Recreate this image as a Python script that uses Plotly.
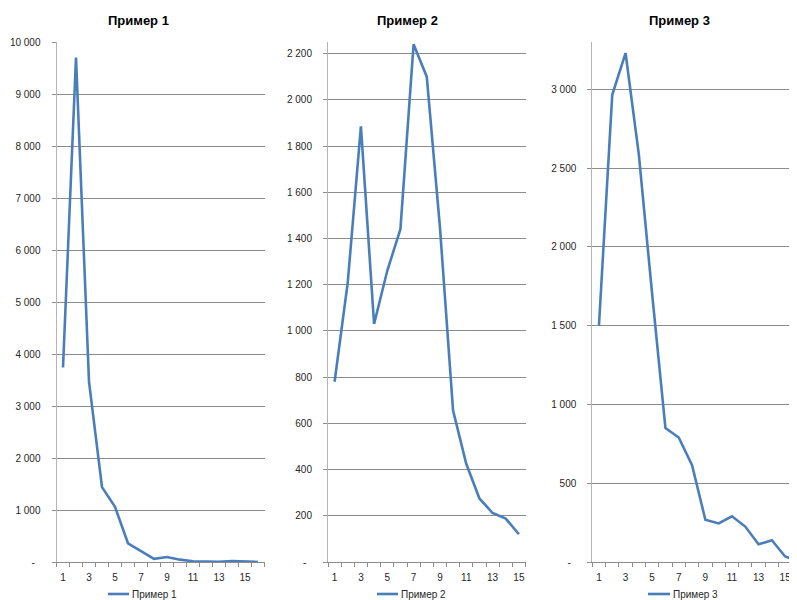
import plotly.graph_objects as go

# ---- data ----
titles = ["Пример 1", "Пример 2", "Пример 3"]
s1_values = [3740, 9700, 3470, 1440, 1060, 360, 210, 60, 95, 45, 15, 15, 5, 20, 5, 0]
s2_values = [780, 1210, 1885, 1030, 1260, 1440, 2240, 2100, 1450, 655, 425, 275, 212, 188, 120]
s3_values = [1500, 2965, 3230, 2585, 1700, 850, 790, 615, 268, 245, 290, 225, 112, 138, 35, 5]

y1_ticks = [0, 1000, 2000, 3000, 4000, 5000, 6000, 7000, 8000, 9000, 10000]
y1_labels = ["-\u00a0\u00a0", "1 000", "2 000", "3 000", "4 000", "5 000", "6 000", "7 000", "8 000", "9 000", "10 000"]
y2_ticks = [0, 200, 400, 600, 800, 1000, 1200, 1400, 1600, 1800, 2000, 2200]
y2_labels = ["-\u00a0\u00a0", "200", "400", "600", "800", "1 000", "1 200", "1 400", "1 600", "1 800", "2 000", "2 200"]
y3_ticks = [0, 500, 1000, 1500, 2000, 2500, 3000]
y3_labels = ["-\u00a0\u00a0", "500", "1 000", "1 500", "2 000", "2 500", "3 000"]
x_label_vals = [1, 3, 5, 7, 9, 11, 13, 15]

# page is 797x600, body has an 8px margin -> figure 789x592 placed at (8, 8)
OFF = 8
W, H = 797 - OFF, 600 - OFF
LINE = "#4a7ebb"
GRID = "#8c8c8c"
AXIS = "#b5b5b5"
TXT = "#262626"
FONT = "Liberation Sans"

def px(x):
    return (x - OFF) / W

def py(y):
    return (600 - y) / H

series = [s1_values, s2_values, s3_values]
xdomains = [(56.5, 264.5), (328, 525.5), (592.3, 797)]
xranges = [[0.5, 16.5], [0.5, 15.5], [0.5, 15.89]]
yranges = [[0, 10000], [0, 2250], [0, 3300]]
yticks = [(y1_ticks, y1_labels), (y2_ticks, y2_labels), (y3_ticks, y3_labels)]
title_x = [138, 407.5, 679]
legend_line = [(108, 129), (377, 398), (648, 670)]
LEG_Y = 594

fig = go.Figure()
layout = dict(
    width=W, height=H,
    margin=dict(l=0, r=0, t=0, b=0, pad=0),
    paper_bgcolor="white", plot_bgcolor="white",
    showlegend=False,
    font=dict(family=FONT, size=10, color=TXT),
)
annotations = []
shapes = []

for i, vals in enumerate(series):
    n = i + 1
    xs = "x" if n == 1 else f"x{n}"
    ys = "y" if n == 1 else f"y{n}"
    fig.add_trace(go.Scatter(
        x=list(range(1, len(vals) + 1)), y=vals, mode="lines",
        line=dict(color=LINE, width=2.6), name=titles[i],
        xaxis=xs, yaxis=ys,
    ))
    xk = "xaxis" if n == 1 else f"xaxis{n}"
    yk = "yaxis" if n == 1 else f"yaxis{n}"
    layout[xk] = dict(
        domain=[px(xdomains[i][0]), min(1.0, px(xdomains[i][1]))],
        range=xranges[i], anchor=ys, automargin=False,
        tickmode="array", tickvals=x_label_vals, ticktext=[str(v) for v in x_label_vals],
        ticks="", showgrid=False, zeroline=False,
        showline=True, linecolor=GRID, linewidth=1,
        tickfont=dict(family=FONT, size=10, color=TXT),
        ticklabelstandoff=6,
        minor=dict(tick0=0.5, dtick=1, ticks="outside", ticklen=4, tickcolor=GRID, showgrid=False),
        fixedrange=True,
    )
    tv, tt = yticks[i]
    layout[yk] = dict(
        domain=[py(562), py(42)],
        range=yranges[i], anchor=xs, automargin=False,
        tickmode="array", tickvals=tv, ticktext=tt,
        ticks="outside", ticklen=4, tickcolor=GRID,
        showgrid=True, gridcolor=GRID, gridwidth=1,
        zeroline=False, showline=True, linecolor=AXIS, linewidth=1,
        tickfont=dict(family=FONT, size=10, color=TXT),
        ticklabelstandoff=9,
        fixedrange=True,
    )
    annotations.append(dict(
        x=px(title_x[i]), y=py(21), xref="paper", yref="paper",
        text=f"<b>{titles[i]}</b>", showarrow=False,
        xanchor="center", yanchor="middle",
        font=dict(family=FONT, size=13, color="#000000"),
    ))
    x0, x1 = legend_line[i]
    shapes.append(dict(
        type="line", xref="paper", yref="paper",
        x0=px(x0), x1=px(x1), y0=py(LEG_Y), y1=py(LEG_Y),
        line=dict(color=LINE, width=2.6),
    ))
    annotations.append(dict(
        x=px(x1 + 1), y=py(LEG_Y), xref="paper", yref="paper",
        text=titles[i], showarrow=False,
        xanchor="left", yanchor="middle",
        font=dict(family=FONT, size=10, color=TXT),
    ))

layout["annotations"] = annotations
layout["shapes"] = shapes
fig.update_layout(**layout)
fig.write_html("out.html")
